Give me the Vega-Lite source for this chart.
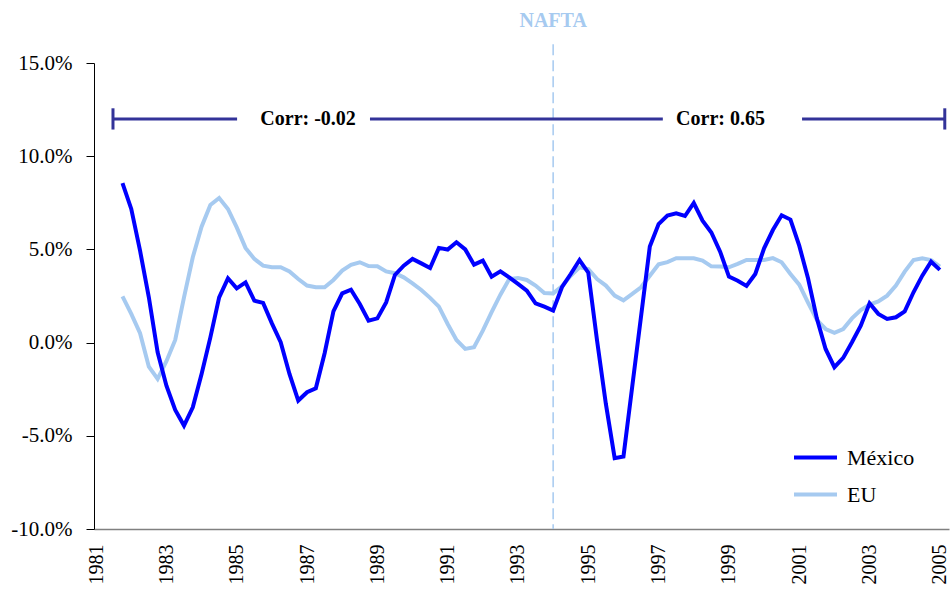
{
  "$schema": "https://vega.github.io/schema/vega-lite/v6.json",
  "width": 855,
  "height": 466,
  "autosize": {"type": "none"},
  "padding": {"left": 94, "top": 63, "right": 2, "bottom": 60},
  "background": "white",
  "config": {
    "view": {"stroke": null},
    "font": "Liberation Serif",
    "axis": {"grid": false, "labelFont": "Liberation Serif", "labelColor": "black"}
  },
  "datasets": {
    "series": [
      {"t": 1981.75, "México": 8.56, "EU": 2.48},
      {"t": 1982.0, "México": 7.17, "EU": 1.54},
      {"t": 1982.25, "México": 4.93, "EU": 0.5},
      {"t": 1982.5, "México": 2.43, "EU": -1.29},
      {"t": 1982.75, "México": -0.52, "EU": -1.95},
      {"t": 1983.0, "México": -2.31, "EU": -1.0},
      {"t": 1983.25, "México": -3.61, "EU": 0.14},
      {"t": 1983.5, "México": -4.45, "EU": 2.43},
      {"t": 1983.75, "México": -3.47, "EU": 4.58},
      {"t": 1984.0, "México": -1.68, "EU": 6.22},
      {"t": 1984.25, "México": 0.28, "EU": 7.38},
      {"t": 1984.5, "México": 2.43, "EU": 7.76},
      {"t": 1984.75, "México": 3.45, "EU": 7.17},
      {"t": 1985.0, "México": 2.91, "EU": 6.18},
      {"t": 1985.25, "México": 3.23, "EU": 5.08},
      {"t": 1985.5, "México": 2.25, "EU": 4.49},
      {"t": 1985.75, "México": 2.13, "EU": 4.13},
      {"t": 1986.0, "México": 1.03, "EU": 4.04},
      {"t": 1986.25, "México": 0.02, "EU": 4.04},
      {"t": 1986.5, "México": -1.68, "EU": 3.82},
      {"t": 1986.75, "México": -3.11, "EU": 3.41},
      {"t": 1987.0, "México": -2.66, "EU": 3.06},
      {"t": 1987.25, "México": -2.45, "EU": 2.97},
      {"t": 1987.5, "México": -0.57, "EU": 2.97},
      {"t": 1987.75, "México": 1.68, "EU": 3.36},
      {"t": 1988.0, "México": 2.64, "EU": 3.86},
      {"t": 1988.25, "México": 2.84, "EU": 4.17},
      {"t": 1988.5, "México": 2.07, "EU": 4.31},
      {"t": 1988.75, "México": 1.18, "EU": 4.11},
      {"t": 1989.0, "México": 1.3, "EU": 4.1},
      {"t": 1989.25, "México": 2.16, "EU": 3.82},
      {"t": 1989.5, "México": 3.63, "EU": 3.72},
      {"t": 1989.75, "México": 4.13, "EU": 3.5},
      {"t": 1990.0, "México": 4.49, "EU": 3.18},
      {"t": 1990.25, "México": 4.25, "EU": 2.82},
      {"t": 1990.5, "México": 4.0, "EU": 2.4},
      {"t": 1990.75, "México": 5.08, "EU": 1.93},
      {"t": 1991.0, "México": 4.99, "EU": 1.0},
      {"t": 1991.25, "México": 5.38, "EU": 0.14},
      {"t": 1991.5, "México": 5.0, "EU": -0.34},
      {"t": 1991.75, "México": 4.18, "EU": -0.25},
      {"t": 1992.0, "México": 4.4, "EU": 0.64},
      {"t": 1992.25, "México": 3.54, "EU": 1.63},
      {"t": 1992.5, "México": 3.82, "EU": 2.57},
      {"t": 1992.75, "México": 3.5, "EU": 3.41},
      {"t": 1993.0, "México": 3.15, "EU": 3.47},
      {"t": 1993.25, "México": 2.79, "EU": 3.36},
      {"t": 1993.5, "México": 2.11, "EU": 3.06},
      {"t": 1993.75, "México": 1.93, "EU": 2.66},
      {"t": 1994.0, "México": 1.72, "EU": 2.64},
      {"t": 1994.25, "México": 2.97, "EU": 3.02},
      {"t": 1994.5, "México": 3.68, "EU": 3.59},
      {"t": 1994.75, "México": 4.43, "EU": 4.04},
      {"t": 1995.0, "México": 3.75, "EU": 3.95},
      {"t": 1995.25, "México": 0.1, "EU": 3.41},
      {"t": 1995.5, "México": -3.29, "EU": 3.06},
      {"t": 1995.75, "México": -6.2, "EU": 2.52},
      {"t": 1996.0, "México": -6.11, "EU": 2.27},
      {"t": 1996.25, "México": -2.35, "EU": 2.61},
      {"t": 1996.5, "México": 1.4, "EU": 2.97},
      {"t": 1996.75, "México": 5.15, "EU": 3.59},
      {"t": 1997.0, "México": 6.36, "EU": 4.2},
      {"t": 1997.25, "México": 6.81, "EU": 4.32},
      {"t": 1997.5, "México": 6.93, "EU": 4.53},
      {"t": 1997.75, "México": 6.79, "EU": 4.52},
      {"t": 1998.0, "México": 7.49, "EU": 4.52},
      {"t": 1998.25, "México": 6.54, "EU": 4.4},
      {"t": 1998.5, "México": 5.91, "EU": 4.09},
      {"t": 1998.75, "México": 4.88, "EU": 4.08},
      {"t": 1999.0, "México": 3.54, "EU": 4.04},
      {"t": 1999.25, "México": 3.32, "EU": 4.22},
      {"t": 1999.5, "México": 3.04, "EU": 4.43},
      {"t": 1999.75, "México": 3.68, "EU": 4.43},
      {"t": 2000.0, "México": 5.06, "EU": 4.43},
      {"t": 2000.25, "México": 6.04, "EU": 4.53},
      {"t": 2000.5, "México": 6.83, "EU": 4.31},
      {"t": 2000.75, "México": 6.6, "EU": 3.68},
      {"t": 2001.0, "México": 5.2, "EU": 3.11},
      {"t": 2001.25, "México": 3.45, "EU": 2.15},
      {"t": 2001.5, "México": 1.3, "EU": 1.22},
      {"t": 2001.75, "México": -0.34, "EU": 0.73},
      {"t": 2002.0, "México": -1.32, "EU": 0.52},
      {"t": 2002.25, "México": -0.82, "EU": 0.73},
      {"t": 2002.5, "México": 0.02, "EU": 1.3},
      {"t": 2002.75, "México": 0.91, "EU": 1.75},
      {"t": 2003.0, "México": 2.11, "EU": 2.04},
      {"t": 2003.25, "México": 1.54, "EU": 2.21},
      {"t": 2003.5, "México": 1.27, "EU": 2.52},
      {"t": 2003.75, "México": 1.36, "EU": 3.06},
      {"t": 2004.0, "México": 1.68, "EU": 3.81},
      {"t": 2004.25, "México": 2.7, "EU": 4.43},
      {"t": 2004.5, "México": 3.59, "EU": 4.52},
      {"t": 2004.75, "México": 4.34, "EU": 4.43},
      {"t": 2005.0, "México": 3.9, "EU": 4.08}
    ],
    "bracket": [
      {"start": 1981.48, "end": 1985.01},
      {"start": 1988.79, "end": 1997.12},
      {"start": 2001.08, "end": 2005.14}
    ],
    "caps": [{"at": 1981.48}, {"at": 2005.14}],
    "corr": [
      {"at": 1987.03, "label": "Corr: -0.02"},
      {"at": 1998.76, "label": "Corr: 0.65"}
    ],
    "nafta": [{"at": 1994.0, "label": "NAFTA"}]
  },
  "layer": [
    {
      "data": {"name": "nafta"},
      "mark": {"type": "rule", "color": "#A6CAF0", "strokeWidth": 1.5, "strokeDash": [11, 5]},
      "encoding": {
        "x": {"field": "at", "type": "quantitative", "scale": {"domain": [1980.94, 2005.26], "nice": false, "zero": false}},
        "y": {"datum": 16.0, "type": "quantitative"},
        "y2": {"datum": -10}
      }
    },
    {
      "data": {"name": "nafta"},
      "mark": {"type": "text", "color": "#A6CAF0", "fontWeight": "bold", "fontSize": 20, "font": "Liberation Serif", "baseline": "middle", "align": "center"},
      "encoding": {
        "x": {"field": "at", "type": "quantitative"},
        "y": {"datum": 17.25, "type": "quantitative"},
        "text": {"field": "label"}
      }
    },
    {
      "data": {"name": "series"},
      "transform": [{"fold": ["EU", "México"], "as": ["serie", "valor"]}],
      "mark": {"type": "line", "strokeWidth": 4, "strokeJoin": "miter", "strokeCap": "butt"},
      "encoding": {
        "x": {
          "field": "t", "type": "quantitative",
          "scale": {"domain": [1980.94, 2005.26], "nice": false, "zero": false},
          "axis": {
            "title": null,
            "values": [1981, 1983, 1985, 1987, 1989, 1991, 1993, 1995, 1997, 1999, 2001, 2003, 2005],
            "format": "d",
            "ticks": false,
            "labelAngle": 270,
            "labelAlign": "right",
            "labelBaseline": "middle",
            "labelFontSize": 20,
            "labelPadding": 15,
            "domainColor": "#808080",
            "domainWidth": 1.5,
            "labelFlush": false,
            "labelOverlap": false
          }
        },
        "y": {
          "field": "valor", "type": "quantitative",
          "scale": {"domain": [-10, 15], "nice": false, "zero": false},
          "axis": {
            "title": null,
            "values": [-10, -5, 0, 5, 10, 15],
            "labelExpr": "(datum.value < 0 ? '-' : '') + format(abs(datum.value), '.1f') + '%'",
            "tickSize": 8,
            "tickColor": "black",
            "domainColor": "black",
            "labelFontSize": 21,
            "labelPadding": 14,
            "labelFlush": false,
            "labelOverlap": false
          }
        },
        "color": {
          "field": "serie", "type": "nominal",
          "scale": {"domain": ["México", "EU"], "range": ["#0000FF", "#A6CAF0"]},
          "legend": {
            "title": null,
            "orient": "none",
            "legendX": 698,
            "legendY": 371,
            "padding": 0,
            "symbolType": "stroke",
            "symbolSize": 1849,
            "symbolStrokeWidth": 4,
            "labelFont": "Liberation Serif",
            "labelFontSize": 22,
            "labelColor": "black",
            "labelOffset": 8,
            "rowPadding": 2
          }
        }
      }
    },
    {
      "data": {"name": "bracket"},
      "mark": {"type": "rule", "color": "#333399", "strokeWidth": 3},
      "encoding": {
        "x": {"field": "start", "type": "quantitative"},
        "x2": {"field": "end"},
        "y": {"datum": 12, "type": "quantitative"}
      }
    },
    {
      "data": {"name": "caps"},
      "mark": {"type": "rule", "color": "#333399", "strokeWidth": 3},
      "encoding": {
        "x": {"field": "at", "type": "quantitative"},
        "y": {"datum": 11.43, "type": "quantitative"},
        "y2": {"datum": 12.57}
      }
    },
    {
      "data": {"name": "corr"},
      "mark": {"type": "text", "color": "black", "fontWeight": "bold", "fontSize": 20, "font": "Liberation Serif", "baseline": "middle", "align": "center"},
      "encoding": {
        "x": {"field": "at", "type": "quantitative"},
        "y": {"datum": 12, "type": "quantitative"},
        "text": {"field": "label"}
      }
    }
  ]
}
